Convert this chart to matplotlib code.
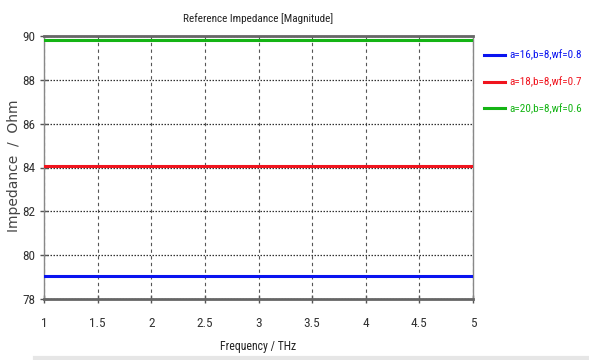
import matplotlib.pyplot as plt
from matplotlib.lines import Line2D

plt.rcParams['font.family'] = ['Roboto Condensed', 'DejaVu Sans']

# 数据
freq = [1.0, 2.0, 3.0, 4.0, 5.0]
z_a16 = [79.05, 79.05, 79.05, 79.05, 79.05]
z_a18 = [84.08, 84.08, 84.08, 84.08, 84.08]
z_a20 = [89.82, 89.82, 89.82, 89.82, 89.82]
labels = ['a=16,b=8,wf=0.8', 'a=18,b=8,wf=0.7', 'a=20,b=8,wf=0.6']
colors = ['#0a14f0', '#f0141e', '#14b414']
x_ticks = [1, 1.5, 2, 2.5, 3, 3.5, 4, 4.5, 5]
y_ticks = [78, 80, 82, 84, 86, 88, 90]

fig = plt.figure(figsize=(5.89, 3.6), dpi=100)
ax = fig.add_axes([44 / 589, 1 - 299 / 360, (473 - 44) / 589, (299 - 36) / 360])

for ys, c, lab in zip([z_a16, z_a18, z_a20], colors, labels):
    ax.plot(freq, ys, color=c, lw=2.2, label=lab, zorder=3)

ax.set_xlim(1, 5)
ax.set_ylim(78, 90)
ax.set_xticks(x_ticks)
ax.set_xticklabels([f'{t:g}' for t in x_ticks])
ax.set_yticks(y_ticks)

# 网格：横向点线，纵向虚线
ax.yaxis.grid(True, linestyle=(0, (1.2, 1.2)), color='#333333', lw=0.9)
ax.xaxis.grid(True, linestyle=(0, (3, 3)), color='#555555', lw=0.8)

for s in ['top', 'bottom']:
    ax.spines[s].set_color('#666666')
    ax.spines[s].set_linewidth(2)
for s in ['left', 'right']:
    ax.spines[s].set_color('#888888')
    ax.spines[s].set_linewidth(1)

ax.tick_params(axis='both', direction='inout', length=6, width=1, color='#555555',
               labelsize=9.5, labelcolor='#333333')
ax.tick_params(axis='x', pad=10)
ax.tick_params(axis='y', pad=3)

ax.set_title('Reference Impedance [Magnitude]', fontsize=8, pad=10, color='#222222')
ax.set_xlabel('Frequency / THz', fontsize=8.5, color='#222222')
ax.xaxis.set_label_coords(0.5, -(340 - 299) / 263)
ax.set_ylabel('Impedance  /  Ohm', fontsize=10, family='DejaVu Sans', color='#444444')
ax.yaxis.set_label_coords(-23 / 429, (299 - 166) / 263)

handles = [Line2D([0], [0], color=c, lw=2.2) for c in colors]
leg = fig.legend(handles, labels, loc='upper left', bbox_to_anchor=(474 / 589, 1 - 40 / 360),
                 frameon=False, fontsize=8, handlelength=1.9, labelspacing=1.45,
                 handletextpad=0.4)
for t, c in zip(leg.get_texts(), colors):
    t.set_color(c)

fig.add_artist(Line2D([0.06, 1.0], [2 / 360, 2 / 360], transform=fig.transFigure,
                      color='#e6e6e6', lw=3))

fig.savefig('out.png', dpi=100)
